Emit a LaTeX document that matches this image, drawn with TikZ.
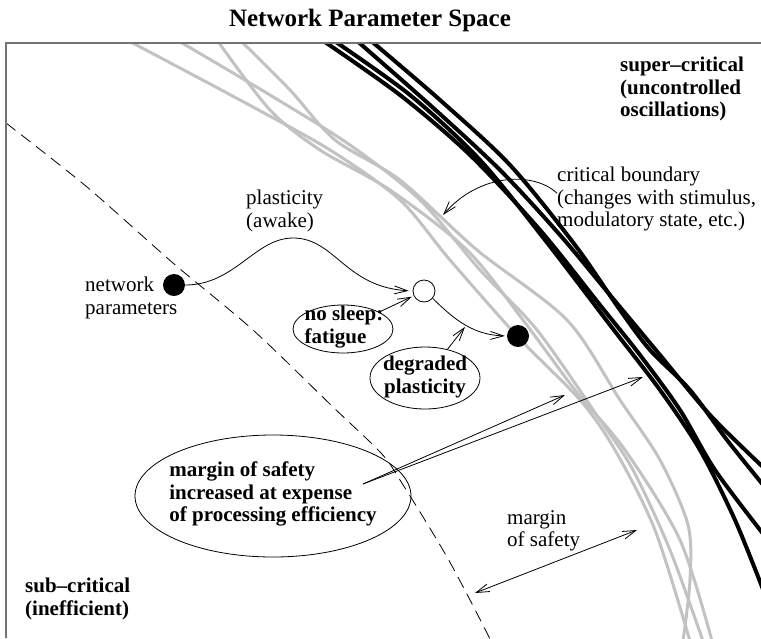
\documentclass[tikz,border=0pt]{standalone}
\usepackage{fontspec}
\setmainfont{Liberation Serif}
\usetikzlibrary{arrows.meta,shapes.geometric,calc}
\begin{document}
\begin{tikzpicture}[x=1pt,y=-1pt,
  rtxt/.style={font=\fontsize{21}{22.5}\selectfont, inner sep=0pt, align=left},
  btxt/.style={font=\fontsize{21}{22.5}\selectfont\bfseries, inner sep=0pt, align=left},
  gcurve/.style={line width=3pt, color=black!24},
  bcurve/.style={line width=4pt, color=black},
  conn/.style={line width=0.8pt, -{Straight Barb[length=13pt,width=8pt]}},
  conn2/.style={line width=0.8pt, {Straight Barb[length=13pt,width=8pt]}-{Straight Barb[length=13pt,width=8pt]}},
  bubble/.style={draw, ellipse, line width=0.8pt, inner sep=0pt},
  bdot/.style={circle, fill=black, minimum size=22pt, inner sep=0pt},
  wdot/.style={circle, draw, fill=white, line width=0.8pt, minimum size=22pt, inner sep=0pt}
]
\useasboundingbox (0,0) rectangle (761,638);
\node[font=\fontsize{25}{27}\selectfont\bfseries, inner sep=0pt, anchor=base] (title) at (370,26) {Network Parameter Space};

\begin{scope}
\clip (6,43) rectangle (761,638);
% gray curves
\draw[gcurve] plot[smooth] coordinates {(127,40) (240,100) (330,150) (400,200) (450,260) (518,337) (580,400) (615,450) (655,530) (690,641)};
\draw[gcurve] plot[smooth] coordinates {(177,40) (270,95) (350,145) (420,200) (480,270) (537,330) (600,420) (633,470) (670,550) (703,641)};
\draw[gcurve] plot[smooth] coordinates {(217,40) (270,110) (320,150) (390,190) (467,250) (523,320) (575,390) (625,450) (680,540) (712,641)};
\draw[gcurve] plot[smooth] coordinates {(240,40) (290,90) (335,140) (400,180) (477,250) (567,320) (620,400) (660,460) (688,525) (690,580) (683,641)};
% black curves
\draw[bcurve] plot[smooth] coordinates {(356,40) (430,105) (500,170) (560,235) (610,295) (660,355) (710,415) (764,468)};
\draw[bcurve] plot[smooth] coordinates {(370,40) (440,100) (510,165) (575,245) (620,310) (650,350) (690,390) (727,440) (764,486)};
\draw[bcurve] plot[smooth] coordinates {(322,40) (400,95) (470,155) (540,230) (600,305) (640,355) (680,410) (715,470) (764,535)};
\draw[bcurve] plot[smooth] coordinates {(333,40) (410,95) (480,160) (545,240) (610,325) (660,390) (700,450) (735,520) (764,592)};
% dashed boundary
\draw[line width=0.8pt, dash pattern=on 12pt off 7pt] plot[smooth] coordinates {(6,123) (87,187) (173,263) (253,330) (333,407) (381,453) (400,480) (447,557) (487,633) (490,641)};
\end{scope}
\draw[line width=1.5pt, black!55] (6,638) -- (6,43) -- (761,43);

% labels
\node[btxt, anchor=north west] (super) at (620,57) {super–critical\\(uncontrolled\\oscillations)};
\node[rtxt, anchor=north west] (crit) at (557,167) {critical boundary\\(changes with stimulus,\\modulatory state, etc.)};
\node[rtxt, anchor=north west] (plast) at (246,190) {plasticity\\(awake)};
\node[rtxt, anchor=north west] (netp) at (85,277) {network\\parameters};
\node[rtxt, anchor=north west] (msafe) at (507,510) {margin\\of safety};
\node[btxt, anchor=north west] (sub) at (25,578) {sub–critical\\(inefficient)};

% dots
\node[bdot] (np) at (174,285) {};
\node[wdot] (circ) at (424,291) {};
\node[bdot] (nd) at (518,336) {};

% ellipses
\node[bubble, minimum width=100pt, minimum height=48pt] (nosleep) at (343,329) {};
\node[btxt] (nosleepT) at (344,327) {no sleep:\\fatigue};
\node[bubble, minimum width=110pt, minimum height=62pt] (degr) at (425,378) {};
\node[btxt, align=center] (degrT) at (425,377) {degraded\\plasticity};
\node[bubble, minimum width=276pt, minimum height=122pt] (marg) at (273,496) {};
\node[btxt] (margT) at (273,494) {margin of safety\\increased at expense\\of processing efficiency};

% connectors
\draw[conn, shorten >=4pt] (np.east) .. controls (235,285) and (255,238) .. (293,238) .. controls (335,238) and (345,287) .. (circ.west);
\draw[conn, shorten >=2pt] (nosleep) -- (circ);
\draw[conn, shorten >=2pt] (circ.-40) to[out=-45, in=178] coordinate[pos=0.5] (mid) (nd.west);
\draw[conn, shorten >=2pt] (degr) -- (mid);

\coordinate (cbtip) at (443,215);
\draw[conn] ($(crit.west)+(0,-6)$) .. controls (535,172) and (480,172) .. (cbtip);

\coordinate (ms) at (363,484);
\coordinate (t1) at (565,395);
\coordinate (t2) at (643,377);
\draw[conn] (ms) -- (t1);
\draw[conn] (ms) -- (t2);

\coordinate (m1) at (475,593);
\coordinate (m2) at (637,530);
\draw[conn2] (m1) -- (m2);
\end{tikzpicture}
\end{document}
